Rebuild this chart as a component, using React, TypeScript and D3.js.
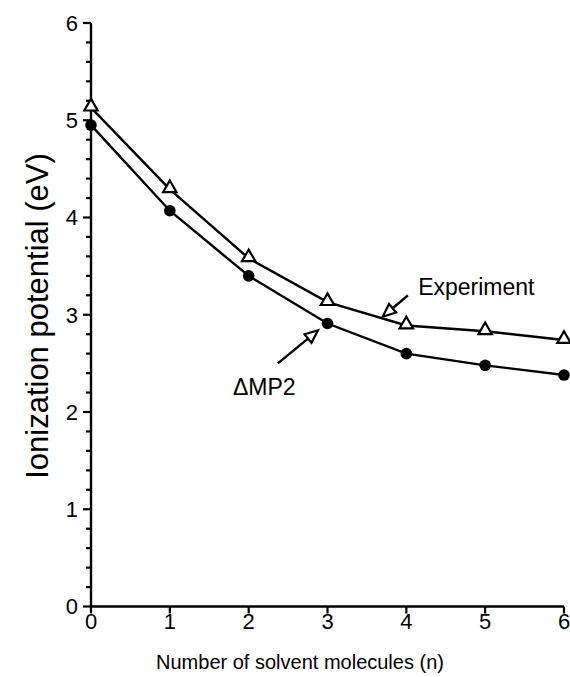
import React from "react";
import * as d3 from "d3";

// number of solvent molecules
const nValues = [0, 1, 2, 3, 4, 5, 6];
// experimental ionization potentials (eV)
const experiment = [5.13, 4.29, 3.58, 3.13, 2.89, 2.83, 2.74];
// ΔMP2 values (eV)
const mp2 = [4.95, 4.07, 3.4, 2.91, 2.6, 2.48, 2.38];

const xTicks = [0, 1, 2, 3, 4, 5, 6];
const yTicks = [0, 1, 2, 3, 4, 5, 6];

// annotation arrows in data units: [tailX, tailY, tipX, tipY]
const expArrow = [4.02, 3.2, 3.7, 2.98];
const mp2Arrow = [2.37, 2.5, 2.88, 2.84];

const FONT = "'Liberation Sans', Arial, Helvetica, sans-serif";

function Arrow({ x1, y1, x2, y2 }) {
  // open arrowhead pointing at (x2, y2)
  const ang = Math.atan2(y2 - y1, x2 - x1);
  const len = 13;
  const half = 5.5;
  const bx = x2 - len * Math.cos(ang);
  const by = y2 - len * Math.sin(ang);
  const px = -Math.sin(ang) * half;
  const py = Math.cos(ang) * half;
  const head = `M${x2},${y2}L${bx + px},${by + py}L${bx - px},${by - py}Z`;
  return (
    <g>
      <line x1={x1} y1={y1} x2={bx} y2={by} stroke="#000" strokeWidth={2.4} />
      <path d={head} fill="#fff" stroke="#000" strokeWidth={2.2} />
    </g>
  );
}

export default function App() {
  const width = 570;
  const height = 677;

  const x = d3.scaleLinear().domain([0, 6]).range([91, 564]);
  const y = d3.scaleLinear().domain([0, 6]).range([606.5, 23]);

  const minorTicks = d3.range(0, 6.001, 0.2).filter((v) => Math.abs(v - Math.round(v)) > 0.01);

  const line = d3
    .line<number>()
    .x((_, i) => x(nValues[i]))
    .y((d) => y(d));

  const tri = d3.symbol().type(d3.symbolTriangle).size(78)();

  return (
    <svg
      width={width}
      height={height}
      style={{ position: "absolute", left: 0, top: 0, background: "#fff" }}
      fontFamily={FONT}
    >
      {/* axes */}
      <line x1={x(0)} x2={x(6)} y1={y(0)} y2={y(0)} stroke="#000" strokeWidth={2.4} />
      <line x1={x(0)} x2={x(0)} y1={y(0)} y2={y(6)} stroke="#000" strokeWidth={2.4} />

      {/* y ticks */}
      {yTicks.map((t) => (
        <g key={"y" + t}>
          <line x1={x(0) - 8} x2={x(0)} y1={y(t)} y2={y(t)} stroke="#000" strokeWidth={2.2} />
          <text x={x(0) - 13} y={y(t)} dy="0.36em" textAnchor="end" fontSize={22}>
            {t}
          </text>
        </g>
      ))}
      {minorTicks.map((t) => (
        <line key={"ym" + t} x1={x(0) - 5} x2={x(0)} y1={y(t)} y2={y(t)} stroke="#000" strokeWidth={2.2} />
      ))}

      {/* x ticks */}
      {xTicks.map((t) => (
        <g key={"x" + t}>
          <line x1={x(t)} x2={x(t)} y1={y(0)} y2={y(0) + 7} stroke="#000" strokeWidth={2.2} />
          <text x={x(t)} y={y(0) + 22} textAnchor="middle" fontSize={22}>
            {t}
          </text>
        </g>
      ))}

      {/* series lines */}
      <path d={line(experiment)} fill="none" stroke="#000" strokeWidth={2.4} />
      <path d={line(mp2)} fill="none" stroke="#000" strokeWidth={2.4} />

      {/* markers */}
      {experiment.map((v, i) => (
        <path
          key={"e" + i}
          d={tri}
          transform={`translate(${x(nValues[i])},${y(v) - 1})`}
          fill="#fff"
          stroke="#000"
          strokeWidth={2.2}
        />
      ))}
      {mp2.map((v, i) => (
        <circle key={"m" + i} cx={x(nValues[i])} cy={y(v)} r={5.8} fill="#000" />
      ))}

      {/* annotations */}
      <Arrow x1={x(expArrow[0])} y1={y(expArrow[1])} x2={x(expArrow[2])} y2={y(expArrow[3])} />
      <Arrow x1={x(mp2Arrow[0])} y1={y(mp2Arrow[1])} x2={x(mp2Arrow[2])} y2={y(mp2Arrow[3])} />
      <text x={x(4.15)} y={y(3.2)} fontSize={23}>
        Experiment
      </text>
      <text x={x(1.8)} y={y(2.17)} fontSize={23}>
        ΔMP2
      </text>

      {/* axis titles */}
      <text x={300} y={669} textAnchor="middle" fontSize={20}>
        Number of solvent molecules (n)
      </text>
      <text
        transform={`translate(48,${316}) rotate(-90)`}
        textAnchor="middle"
        fontSize={31}
      >
        Ionization potential (eV)
      </text>
    </svg>
  );
}
